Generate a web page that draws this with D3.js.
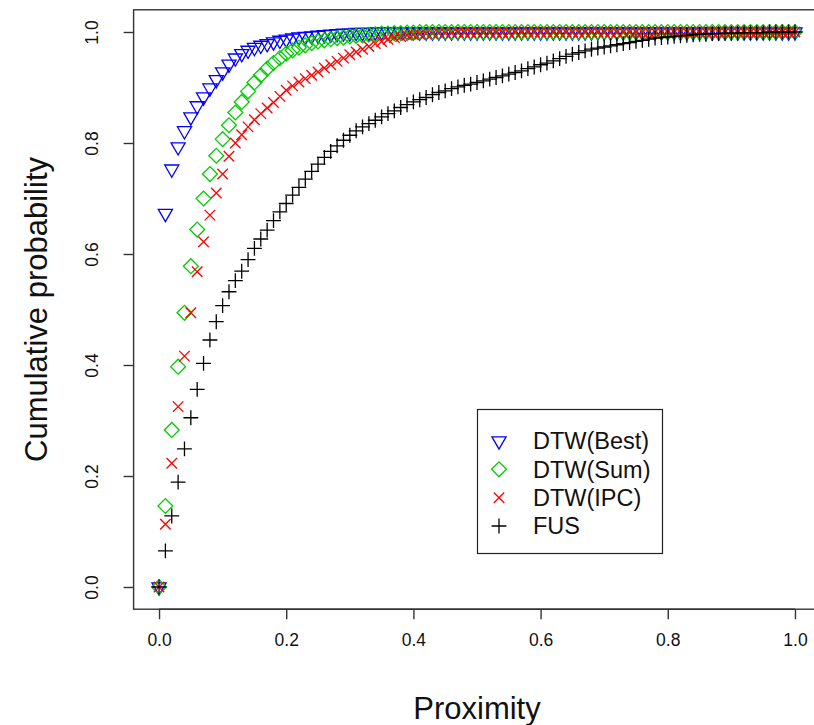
<!DOCTYPE html>
<html>
<head>
<meta charset="utf-8">
<script src="https://cdn.jsdelivr.net/npm/d3@7"></script>
<style>
  body { margin: 0; background: #fff; }
  svg { display: block; font-family: "Liberation Sans", Arial, Helvetica, sans-serif; }
</style>
</head>
<body>
<div id="chart"></div>
<script>
// proximity grid (x) and cumulative probabilities
var proximity = [0, 0.01, 0.02, 0.03, 0.04, 0.05, 0.06, 0.07, 0.08, 0.09,
  0.10, 0.11, 0.12, 0.13, 0.14, 0.15, 0.16, 0.17, 0.18, 0.19,
  0.20, 0.21, 0.22, 0.23, 0.24, 0.25, 0.26, 0.27, 0.28, 0.29,
  0.30, 0.31, 0.32, 0.33, 0.34, 0.35, 0.36, 0.37, 0.38, 0.39,
  0.40, 0.41, 0.42, 0.43, 0.44, 0.45, 0.46, 0.47, 0.48, 0.49,
  0.50, 0.51, 0.52, 0.53, 0.54, 0.55, 0.56, 0.57, 0.58, 0.59,
  0.60, 0.61, 0.62, 0.63, 0.64, 0.65, 0.66, 0.67, 0.68, 0.69,
  0.70, 0.71, 0.72, 0.73, 0.74, 0.75, 0.76, 0.77, 0.78, 0.79,
  0.80, 0.81, 0.82, 0.83, 0.84, 0.85, 0.86, 0.87, 0.88, 0.89,
  0.90, 0.91, 0.92, 0.93, 0.94, 0.95, 0.96, 0.97, 0.98, 0.99, 1.00];

var dtwBest = [0, .673, .753, .793, .822, .847, .867, .883, .899, .914,
  .928, .942, .953, .961, .967, .972, .976, .979, .982, .985,
  .987, .989, .991, .992, .993, .994, .995, .996, .997, .998,
  .998, .999, .999, .999, 1, 1, 1, 1, 1, 1,
  1, 1, 1, 1, 1, 1, 1, 1, 1, 1,
  1, 1, 1, 1, 1, 1, 1, 1, 1, 1,
  1, 1, 1, 1, 1, 1, 1, 1, 1, 1,
  1, 1, 1, 1, 1, 1, 1, 1, 1, 1,
  1, 1, 1, 1, 1, 1, 1, 1, 1, 1,
  1, 1, 1, 1, 1, 1, 1, 1, 1, 1, 1];

var dtwSum = [0, .146, .283, .397, .494, .578, .644, .700, .744, .777,
  .807, .832, .855, .874, .893, .909, .922, .934, .944, .953,
  .961, .967, .972, .976, .980, .983, .985, .987, .989, .990,
  .992, .993, .994, .995, .996, .997, .997, .998, .998, .999,
  .999, 1, 1, 1, 1, 1, 1, 1, 1, 1,
  1, 1, 1, 1, 1, 1, 1, 1, 1, 1,
  1, 1, 1, 1, 1, 1, 1, 1, 1, 1,
  1, 1, 1, 1, 1, 1, 1, 1, 1, 1,
  1, 1, 1, 1, 1, 1, 1, 1, 1, 1,
  1, 1, 1, 1, 1, 1, 1, 1, 1, 1, 1];

var dtwIpc = [0, .113, .223, .325, .416, .494, .568, .622, .670, .710,
  .744, .776, .800, .815, .829, .842, .853, .863, .873, .884,
  .895, .903, .910, .916, .922, .928, .935, .941, .947, .953,
  .959, .964, .969, .974, .979, .983, .987, .990, .992, .994,
  .995, .996, .997, .997, .998, .998, .998, .999, .999, .999,
  .999, .999, .999, .999, .999, .999, 1, 1, 1, 1,
  1, 1, 1, 1, 1, 1, 1, 1, 1, 1,
  1, 1, 1, 1, 1, 1, 1, 1, 1, 1,
  1, 1, 1, 1, 1, 1, 1, 1, 1, 1,
  1, 1, 1, 1, 1, 1, 1, 1, 1, 1, 1];

var fus = [0, .065, .128, .189, .249, .305, .356, .403, .445, .478,
  .507, .532, .552, .569, .590, .610, .627, .643, .660, .676,
  .691, .706, .720, .735, .749, .762, .774, .785, .795, .805,
  .814, .822, .829, .835, .841, .847, .853, .858, .864, .869,
  .874, .878, .882, .887, .891, .894, .898, .901, .904, .906,
  .909, .912, .915, .918, .921, .924, .927, .930, .934, .937,
  .941, .944, .948, .952, .956, .960, .963, .966, .969, .971,
  .973, .975, .977, .979, .981, .983, .985, .987, .989, .990,
  .991, .992, .993, .994, .995, .996, .996, .997, .997, .998,
  .998, .998, .999, .999, .999, .999, 1, 1, 1, 1, 1];

var seriesNames = ['DTW(Best)', 'DTW(Sum)', 'DTW(IPC)', 'FUS'];
var seriesColors = ['#0000ff', '#00cd00', '#ff0000', '#000000'];
var seriesShapes = ['triDown', 'diamond', 'cross', 'plus'];
var seriesValues = [dtwBest, dtwSum, dtwIpc, fus];
var tickValues = [0, 0.2, 0.4, 0.6, 0.8, 1.0];

var width = 814, height = 725;

var x = d3.scaleLinear().domain([-0.04, 1.04]).range([133.6, 820.4]);
var y = d3.scaleLinear().domain([-0.04, 1.04]).range([609.2, 9.8]);

var svg = d3.select('#chart').append('svg')
    .attr('width', width)
    .attr('height', height);

// R style point symbols
var rad = 0.375 * 14;
function symbolPath(shape) {
    var s = Math.SQRT2 * rad;
    if (shape == 'plus') return `M${-s},0H${s}M0,${-s}V${s}`;
    if (shape == 'cross') return `M${-rad},${-rad}L${rad},${rad}M${-rad},${rad}L${rad},${-rad}`;
    if (shape == 'diamond') return `M${-s},0L0,${-s}L${s},0L0,${s}Z`;
    // point-down triangle
    var r = 1.5551203 * rad, yc = 0.7775602 * rad, xc = 1.3467736 * rad;
    return `M0,${r}L${xc},${-yc}L${-xc},${-yc}Z`;
}

// box around plot region
svg.append('rect')
    .attr('x', x(-0.04))
    .attr('y', y(1.04))
    .attr('width', x(1.04) - x(-0.04))
    .attr('height', y(-0.04) - y(1.04))
    .attr('fill', 'none')
    .attr('stroke', '#333')
    .attr('stroke-width', 1.4);

// x axis
var ax_x = d3.axisBottom(x)
    .tickValues(tickValues)
    .tickSize(10)
    .tickPadding(14)
    .tickFormat(d3.format('.1f'));

var gx = svg.append('g')
    .attr('transform', `translate(0,${y(-0.04)})`)
    .call(ax_x);
gx.select('.domain').remove();
gx.append('line')
    .attr('x1', x(0)).attr('x2', x(1))
    .attr('stroke', '#333').attr('stroke-width', 1.4);
gx.selectAll('.tick line').attr('stroke', '#333').attr('stroke-width', 1.4);
gx.selectAll('text')
    .attr('fill', '#111')
    .style('font-size', '17.5px');

// y axis, labels turned like R's las=0
var ax_y = d3.axisLeft(y)
    .tickValues(tickValues)
    .tickSize(10)
    .tickFormat(d3.format('.1f'));

var gy = svg.append('g')
    .attr('transform', `translate(${x(-0.04)},0)`)
    .call(ax_y);
gy.select('.domain').remove();
gy.selectAll('.tick line').attr('stroke', '#333').attr('stroke-width', 1.4);
gy.selectAll('text')
    .attr('x', 0)
    .attr('dy', 0)
    .attr('transform', 'translate(-36,0) rotate(-90)')
    .attr('fill', '#111')
    .style('text-anchor', 'middle')
    .style('font-size', '17.5px');

// axis titles
svg.append('text')
    .attr('x', (x(-0.04) + x(1.04)) / 2)
    .attr('y', 719)
    .attr('text-anchor', 'middle')
    .style('font-size', '31px')
    .attr('fill', '#111')
    .text('Proximity');

svg.append('text')
    .attr('transform', `translate(47,${(y(-0.04) + y(1.04)) / 2}) rotate(-90)`)
    .attr('text-anchor', 'middle')
    .style('font-size', '31px')
    .attr('fill', '#111')
    .text('Cumulative probability');

// points, drawn in series order
seriesValues.forEach(function (vals, k) {
    svg.append('g').selectAll('path')
        .data(vals)
        .enter()
        .append('path')
        .attr('d', symbolPath(seriesShapes[k]))
        .attr('transform', (d, i) => `translate(${x(proximity[i])},${y(d)})`)
        .attr('fill', 'none')
        .attr('stroke', seriesColors[k])
        .attr('stroke-width', 1.3);
});

// legend
var legend = svg.append('g');
legend.append('rect')
    .attr('x', 477.5).attr('y', 409.5)
    .attr('width', 185).attr('height', 144)
    .attr('fill', '#fff')
    .attr('stroke', '#222')
    .attr('stroke-width', 1.2);

var rowY = d3.scalePoint().domain(seriesNames).range([441, 526]);
seriesNames.forEach(function (name, k) {
    legend.append('path')
        .attr('d', symbolPath(seriesShapes[k]))
        .attr('transform', `translate(499,${rowY(name)})`)
        .attr('fill', 'none')
        .attr('stroke', seriesColors[k])
        .attr('stroke-width', 1.3);
    legend.append('text')
        .attr('x', 533)
        .attr('y', rowY(name))
        .attr('dy', '0.36em')
        .style('font-size', '23.5px')
        .attr('fill', '#111')
        .text(name);
});
</script>
</body>
</html>
